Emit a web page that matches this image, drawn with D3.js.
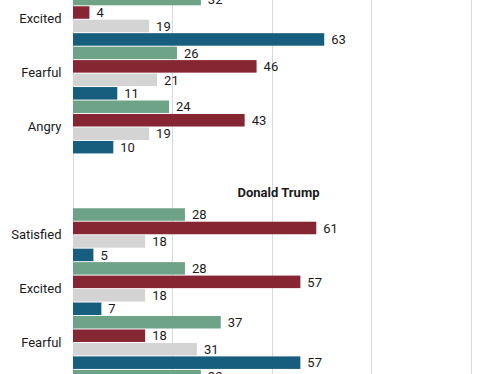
<!DOCTYPE html>
<html lang="en">
<head>
    <meta charset="UTF-8">
    <title>Feelings about the candidates</title>
    <script src="https://cdn.jsdelivr.net/npm/d3@7"></script>
    <style>
        body {
            margin: 0;
            background-color: #fff;
        }

        svg text {
            font-family: Roboto, "Noto Sans", sans-serif;
            fill: #1a1a1a;
        }

        .value-label {
            font-size: 13px;
        }

        .row-label {
            font-size: 13px;
        }

        .facet-title {
            font-size: 13px;
            font-weight: bold;
        }

        .grid line {
            stroke: #d9d9d9;
            stroke-width: 1;
        }
    </style>
</head>
<body>
    <script>
        // upper panel (its first group is cut off above the picture)
        const topEmotions = ['Excited', 'Fearful', 'Angry'];
        const topValues = [
            [32, 4, 19, 63],
            [26, 46, 21, 11],
            [24, 43, 19, 10]
        ];

        // lower panel, the last group runs off the bottom
        const trumpTitle = 'Donald Trump';
        const trumpEmotions = ['Satisfied', 'Excited', 'Fearful', 'Angry'];
        const trumpValues = [
            [28, 61, 18, 5],
            [28, 57, 18, 7],
            [37, 18, 31, 57],
            [32, null, null, null]
        ];

        const seriesKeys = ['s1', 's2', 's3', 's4'];
        const seriesColors = ['#6fa388', '#862633', '#d4d4d4', '#175d7d'];
        const gridTicks = [0, 25, 50, 75, 100];

        const w = 493;
        const h = 374;
        const groupStep = 53.87;
        const firstTop = -7.7;

        // one row per group, plus an empty row that holds the panel title
        const rows = [];
        topEmotions.forEach((e, i) => rows.push({ id: 'top-' + e, label: e, values: topValues[i] }));
        rows.push({ id: 'title', title: trumpTitle });
        trumpEmotions.forEach((e, i) => rows.push({ id: 'trump-' + e, label: e, values: trumpValues[i] }));

        const svg = d3.select('body')
                    .append('svg')
                    .attr('width', w)
                    .attr('height', h);

        const xScale = d3.scaleLinear([0, 100], [73.5, 471.5]);

        const yScale = d3.scaleBand(rows.map(r => r.id), [firstTop, firstTop + groupStep * rows.length])
                        .padding(0);

        const barScale = d3.scaleBand(seriesKeys, [0, yScale.bandwidth()])
                        .paddingInner(0.07)
                        .paddingOuter(0.035);

        svg.append('g')
        .attr('class', 'grid')
        .selectAll('line')
        .data(gridTicks)
        .enter()
        .append('line')
        .attr('x1', d => Math.round(xScale(d)) - 0.5)
        .attr('x2', d => Math.round(xScale(d)) - 0.5)
        .attr('y1', 0)
        .attr('y2', h);

        const groups = svg.selectAll('.group')
                        .data(rows.filter(r => r.values))
                        .enter()
                        .append('g')
                        .attr('class', 'group')
                        .attr('transform', d => `translate(0, ${yScale(d.id)})`);

        groups.append('text')
        .attr('class', 'row-label')
        .attr('x', 61.5)
        .attr('y', yScale.bandwidth() / 2)
        .attr('dy', '0.32em')
        .attr('text-anchor', 'end')
        .text(d => d.label);

        const bars = groups.selectAll('.bar')
                    .data(d => d.values.map((v, i) => ({ key: seriesKeys[i], color: seriesColors[i], value: v }))
                                      .filter(b => b.value !== null))
                    .enter();

        bars.append('rect')
        .attr('class', 'bar')
        .attr('x', xScale(0) - 0.5)
        .attr('y', d => barScale(d.key))
        .attr('width', d => xScale(d.value) - xScale(0) + 0.5)
        .attr('height', barScale.bandwidth())
        .attr('fill', d => d.color);

        bars.append('text')
        .attr('class', 'value-label')
        .attr('x', d => xScale(d.value) + 7)
        .attr('y', d => barScale(d.key) + barScale.bandwidth() / 2)
        .attr('dy', '0.36em')
        .text(d => d.value);

        const titleRow = rows.find(r => r.title);
        svg.append('text')
        .attr('class', 'facet-title')
        .attr('x', 278.5)
        .attr('y', yScale(titleRow.id) + yScale.bandwidth() - 10.5)
        .attr('text-anchor', 'middle')
        .text(titleRow.title);
    </script>
</body>
</html>
